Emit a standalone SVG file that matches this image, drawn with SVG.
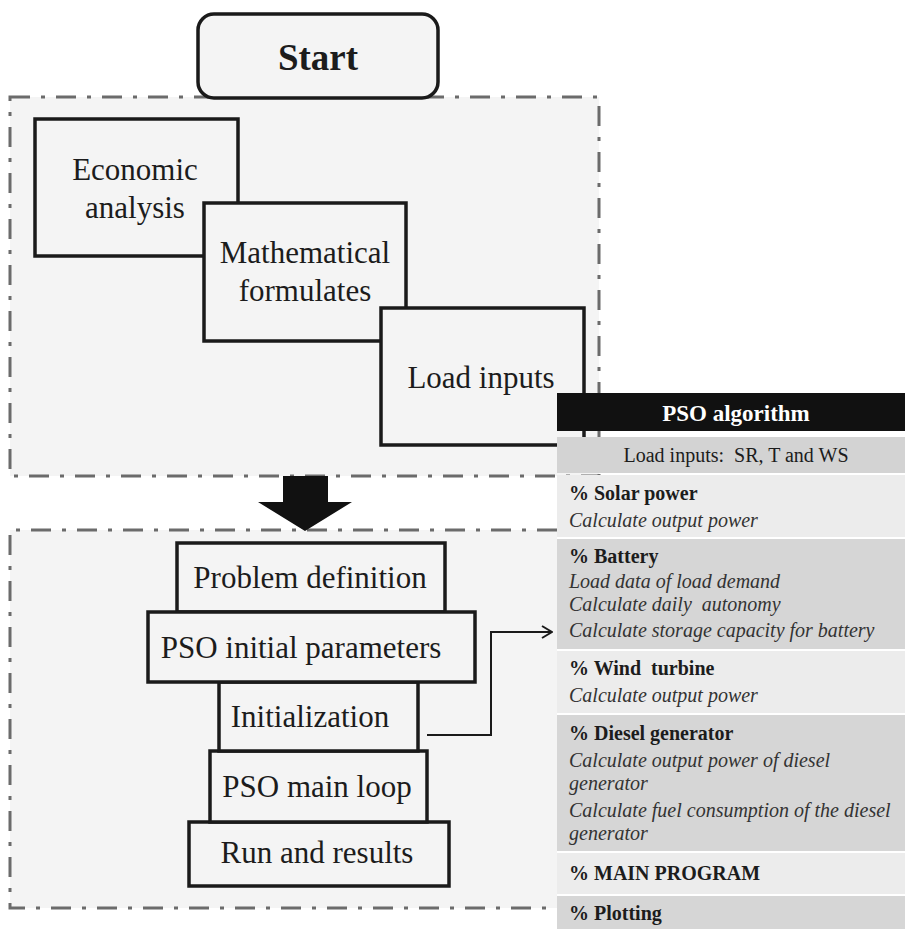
<svg xmlns="http://www.w3.org/2000/svg" width="905" height="929" viewBox="0 0 905 929">
<style>
.bg{fill:#ffffff}
.cont{fill:#f4f4f4;stroke:#6b6b6b;stroke-width:3;stroke-dasharray:20 11 4 11}
.contfill{fill:#f4f4f4}
.contline{fill:none;stroke:#6b6b6b;stroke-width:3;stroke-dasharray:20 11 4 11}
.box{fill:#f4f4f4;stroke:#1a1a1a;stroke-width:3.5}
.t{font-family:"Liberation Serif","Times New Roman",serif;font-size:31px;fill:#1c1c1c;text-anchor:middle}
.tb{font-family:"Liberation Serif","Times New Roman",serif;font-size:37px;font-weight:bold;fill:#1c1c1c;text-anchor:middle}
.hd{font-family:"Liberation Serif","Times New Roman",serif;font-size:23px;font-weight:bold;fill:#ffffff;text-anchor:middle}
.rb{font-family:"Liberation Serif","Times New Roman",serif;font-size:20px;font-weight:bold;fill:#1c1c1c}
.ri{font-family:"Liberation Serif","Times New Roman",serif;font-size:20px;font-style:italic;fill:#333333}
.rn{font-family:"Liberation Serif","Times New Roman",serif;font-size:20px;fill:#1c1c1c;text-anchor:middle}
.light{fill:#ececec}
.dark{fill:#d6d6d6}
.conn{fill:none;stroke:#1a1a1a;stroke-width:2}
</style>
<defs>
<marker id="open" viewBox="0 0 12 14" refX="11" refY="7" markerWidth="12" markerHeight="14" markerUnits="userSpaceOnUse" orient="auto">
<path d="M1,1 L11,7 L1,13" fill="none" stroke="#1a1a1a" stroke-width="2"/>
</marker>
</defs>
<rect class="bg" x="0" y="0" width="905" height="929"/>

<g id="group-top">
<rect class="cont" x="10" y="97" width="589" height="379"/>
</g>
<g id="group-bottom">
<rect class="contfill" x="10" y="530" width="547" height="378"/>
<path class="contline" d="M557,530 H10 V908 H557"/>
</g>

<g id="start">
<rect class="box" x="198" y="14" width="240" height="84" rx="16" ry="16"/>
<text class="tb" x="318" y="70">Start</text>
</g>

<g id="economic">
<rect class="box" x="35" y="119" width="203" height="137"/>
<text class="t" x="135" y="180">Economic</text>
<text class="t" x="135" y="218">analysis</text>
</g>
<g id="math">
<rect class="box" x="204" y="203" width="202" height="138"/>
<text class="t" x="305" y="263">Mathematical</text>
<text class="t" x="305" y="301">formulates</text>
</g>
<g id="load">
<rect class="box" x="381" y="308" width="203" height="137"/>
<text class="t" x="481" y="388">Load inputs</text>
</g>

<g id="big-arrow">
<polygon points="283,476 328,476 328,502 352,502 305,531 258,502 283,502" fill="#111111"/>
</g>

<g id="problem">
<rect class="box" x="177" y="543" width="268" height="69"/>
<text class="t" x="310" y="588">Problem definition</text>
</g>
<g id="run">
<rect class="box" x="189" y="822" width="260" height="64"/>
<text class="t" x="317" y="863">Run and results</text>
</g>
<g id="mainloop">
<rect class="box" x="210" y="751" width="217" height="71"/>
<text class="t" x="317" y="797">PSO main loop</text>
</g>
<g id="init">
<rect class="box" x="219" y="682" width="199" height="69"/>
<text class="t" x="310" y="727">Initialization</text>
</g>
<g id="params">
<rect class="box" x="148" y="612" width="327" height="70"/>
<text class="t" x="301" y="658">PSO initial parameters</text>
</g>

<g id="connectors">
<path class="conn" d="M427,735 H491 V632 H552" marker-end="url(#open)"/>
</g>

<g id="pso-table">
<rect x="557" y="393" width="348" height="38" fill="#111111"/>
<text class="hd" x="736" y="421">PSO algorithm</text>
<rect class="dark" x="557" y="437" width="348" height="36" style="fill:#d3d3d3"/>
<text class="rn" x="736" y="462" xml:space="preserve">Load inputs:  SR, T and WS</text>
<rect class="light" x="557" y="475" width="348" height="62"/>
<text class="rb" x="569" y="500">% Solar power</text>
<text class="ri" x="569" y="527">Calculate output power</text>
<rect class="dark" x="557" y="539" width="348" height="110"/>
<text class="rb" x="569" y="563">% Battery</text>
<text class="ri" x="569" y="588">Load data of load demand</text>
<text class="ri" x="569" y="611" xml:space="preserve">Calculate daily  autonomy</text>
<text class="ri" x="569" y="637">Calculate storage capacity for battery</text>
<rect class="light" x="557" y="651" width="348" height="62"/>
<text class="rb" x="569" y="675" xml:space="preserve">% Wind  turbine</text>
<text class="ri" x="569" y="702">Calculate output power</text>
<rect class="dark" x="557" y="715" width="348" height="136"/>
<text class="rb" x="569" y="740">% Diesel generator</text>
<text class="ri" x="569" y="767">Calculate output power of diesel</text>
<text class="ri" x="569" y="790">generator</text>
<text class="ri" x="569" y="817">Calculate fuel consumption of the diesel</text>
<text class="ri" x="569" y="840">generator</text>
<rect class="light" x="557" y="853" width="348" height="41"/>
<text class="rb" x="569" y="880">% MAIN PROGRAM</text>
<rect class="dark" x="557" y="896" width="348" height="33"/>
<text class="rb" x="569" y="920">% Plotting</text>
</g>
</svg>
